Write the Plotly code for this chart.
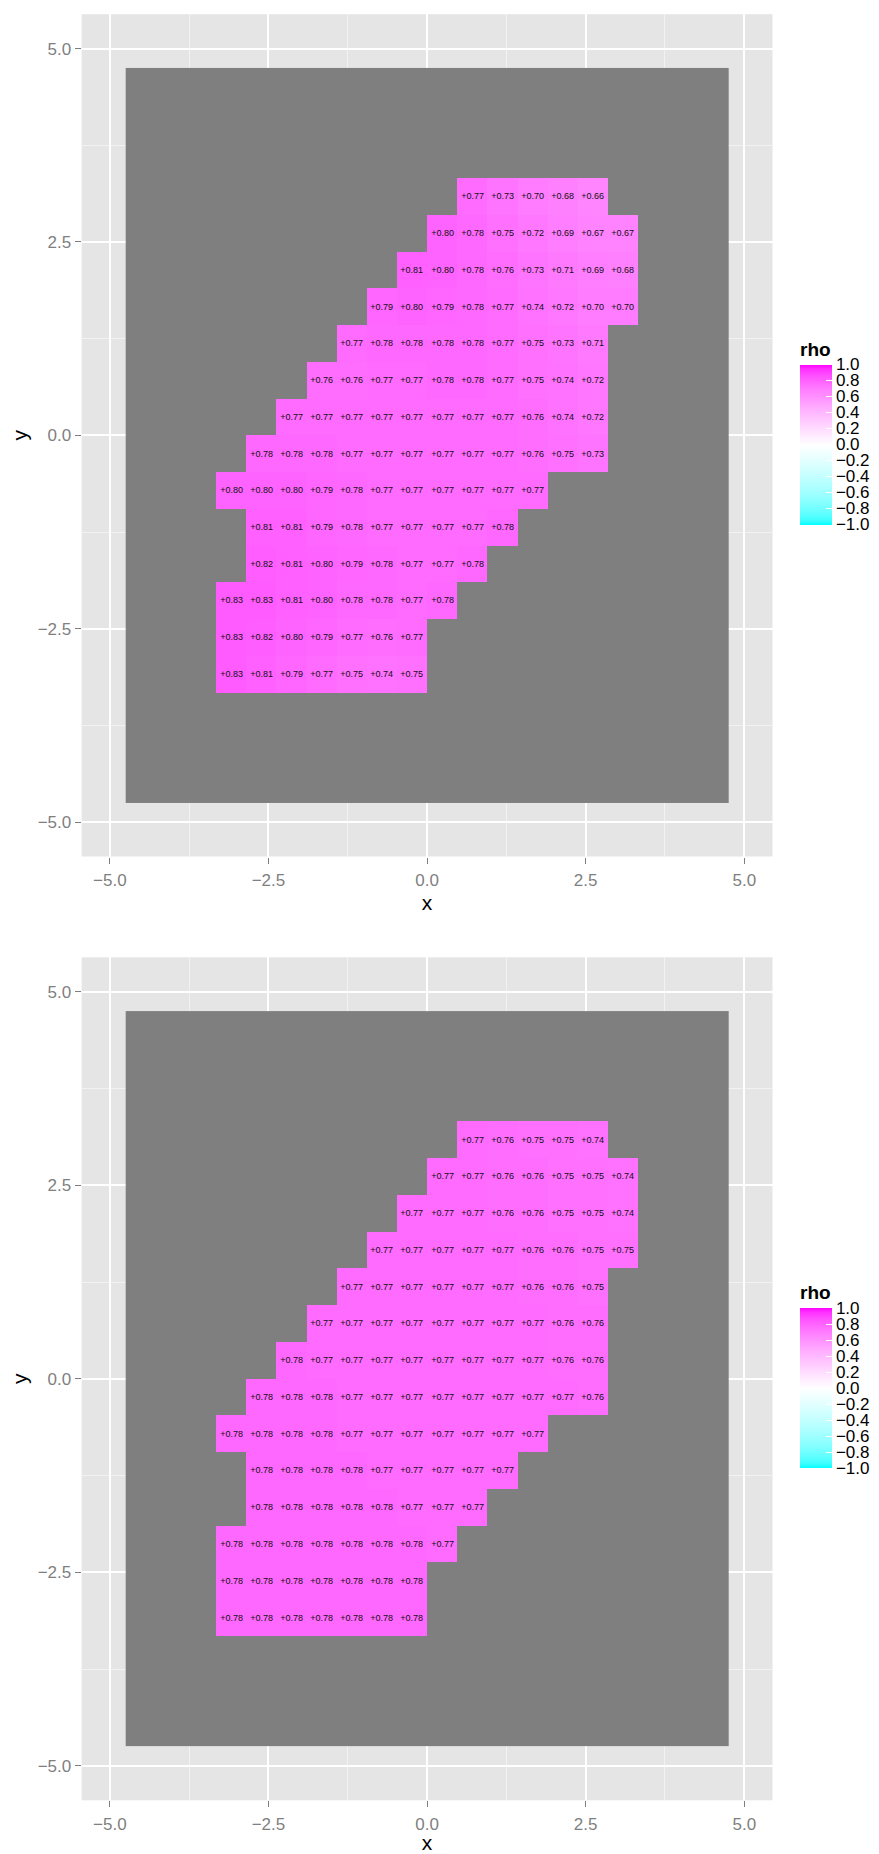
import numpy as np
import plotly.graph_objects as go

# ---------------- data ----------------
GRID_N = 20
GRID_LO, GRID_HI = -4.75, 4.75

# row index (from bottom, 0..19) and first column index of each data row
row_index = [16, 15, 14, 13, 12, 11, 10, 9, 8, 7, 6, 5, 4, 3]
row_start = [11, 10, 9, 8, 7, 6, 5, 4, 3, 4, 4, 3, 3, 3]

top_values = [
    [0.77, 0.73, 0.70, 0.68, 0.66],
    [0.80, 0.78, 0.75, 0.72, 0.69, 0.67, 0.67],
    [0.81, 0.80, 0.78, 0.76, 0.73, 0.71, 0.69, 0.68],
    [0.79, 0.80, 0.79, 0.78, 0.77, 0.74, 0.72, 0.70, 0.70],
    [0.77, 0.78, 0.78, 0.78, 0.78, 0.77, 0.75, 0.73, 0.71],
    [0.76, 0.76, 0.77, 0.77, 0.78, 0.78, 0.77, 0.75, 0.74, 0.72],
    [0.77, 0.77, 0.77, 0.77, 0.77, 0.77, 0.77, 0.77, 0.76, 0.74, 0.72],
    [0.78, 0.78, 0.78, 0.77, 0.77, 0.77, 0.77, 0.77, 0.77, 0.76, 0.75, 0.73],
    [0.80, 0.80, 0.80, 0.79, 0.78, 0.77, 0.77, 0.77, 0.77, 0.77, 0.77],
    [0.81, 0.81, 0.79, 0.78, 0.77, 0.77, 0.77, 0.77, 0.78],
    [0.82, 0.81, 0.80, 0.79, 0.78, 0.77, 0.77, 0.78],
    [0.83, 0.83, 0.81, 0.80, 0.78, 0.78, 0.77, 0.78],
    [0.83, 0.82, 0.80, 0.79, 0.77, 0.76, 0.77],
    [0.83, 0.81, 0.79, 0.77, 0.75, 0.74, 0.75],
]

bottom_values = [
    [0.77, 0.76, 0.75, 0.75, 0.74],
    [0.77, 0.77, 0.76, 0.76, 0.75, 0.75, 0.74],
    [0.77, 0.77, 0.77, 0.76, 0.76, 0.75, 0.75, 0.74],
    [0.77, 0.77, 0.77, 0.77, 0.77, 0.76, 0.76, 0.75, 0.75],
    [0.77, 0.77, 0.77, 0.77, 0.77, 0.77, 0.76, 0.76, 0.75],
    [0.77, 0.77, 0.77, 0.77, 0.77, 0.77, 0.77, 0.77, 0.76, 0.76],
    [0.78, 0.77, 0.77, 0.77, 0.77, 0.77, 0.77, 0.77, 0.77, 0.76, 0.76],
    [0.78, 0.78, 0.78, 0.77, 0.77, 0.77, 0.77, 0.77, 0.77, 0.77, 0.77, 0.76],
    [0.78, 0.78, 0.78, 0.78, 0.77, 0.77, 0.77, 0.77, 0.77, 0.77, 0.77],
    [0.78, 0.78, 0.78, 0.78, 0.77, 0.77, 0.77, 0.77, 0.77],
    [0.78, 0.78, 0.78, 0.78, 0.78, 0.77, 0.77, 0.77],
    [0.78, 0.78, 0.78, 0.78, 0.78, 0.78, 0.78, 0.77],
    [0.78, 0.78, 0.78, 0.78, 0.78, 0.78, 0.78],
    [0.78, 0.78, 0.78, 0.78, 0.78, 0.78, 0.78],
]

axis_tick_vals = [-5.0, -2.5, 0.0, 2.5, 5.0]
axis_tick_text = ["\u22125.0", "\u22122.5", "0.0", "2.5", "5.0"]
minor_tick_vals = [-3.75, -1.25, 1.25, 3.75]
legend_tick_vals = [1.0, 0.8, 0.6, 0.4, 0.2, 0.0, -0.2, -0.4, -0.6, -0.8, -1.0]
legend_tick_text = ["1.0", "0.8", "0.6", "0.4", "0.2", "0.0",
                    "\u22120.2", "\u22120.4", "\u22120.6", "\u22120.8", "\u22121.0"]

# ---------------- helpers ----------------
cell = (GRID_HI - GRID_LO) / GRID_N
centers = [GRID_LO + cell * (k + 0.5) for k in range(GRID_N)]


def build_grid(values):
    z = np.full((GRID_N, GRID_N), np.nan)
    txt = [["" for _ in range(GRID_N)] for _ in range(GRID_N)]
    for r, c0, vals in zip(row_index, row_start, values):
        for j, v in enumerate(vals):
            z[r, c0 + j] = v
            txt[r][c0 + j] = f"{v:+.2f}"
    return z, txt


# Lab interpolation (like ggplot's scale_fill_gradient2)
def _lin(c):
    c = c / 255.0
    return np.where(c <= 0.04045, c / 12.92, ((c + 0.055) / 1.055) ** 2.4)


M = np.array([[0.4124564, 0.3575761, 0.1804375],
              [0.2126729, 0.7151522, 0.0721750],
              [0.0193339, 0.1191920, 0.9503041]])
WN = np.array([0.95047, 1.0, 1.08883])


def rgb2lab(rgb):
    xyz = M @ _lin(np.array(rgb, float)) / WN
    d = 6 / 29
    f = np.where(xyz > d ** 3, np.cbrt(xyz), xyz / (3 * d * d) + 4 / 29)
    return np.array([116 * f[1] - 16, 500 * (f[0] - f[1]), 200 * (f[1] - f[2])])


def lab2rgb(lab):
    L, a, b = lab
    fy = (L + 16) / 116
    fx = fy + a / 500
    fz = fy - b / 200
    d = 6 / 29
    f = np.array([fx, fy, fz])
    xyz = np.where(f > d, f ** 3, 3 * d * d * (f - 4 / 29)) * WN
    lin = np.linalg.solve(M, xyz)
    lin = np.clip(lin, 0, 1)
    c = np.where(lin <= 0.0031308, 12.92 * lin, 1.055 * lin ** (1 / 2.4) - 0.055)
    c = np.clip(np.round(c * 255), 0, 255).astype(int)
    return f"rgb({c[0]},{c[1]},{c[2]})"


low, mid, high = rgb2lab((0, 255, 255)), rgb2lab((255, 255, 255)), rgb2lab((255, 0, 255))
colorscale = []
for s in np.linspace(0, 1, 41):
    v = 2 * s - 1
    if v < 0:
        lab = mid + (low - mid) * (-v)
    else:
        lab = mid + (high - mid) * v
    colorscale.append([float(s), lab2rgb(lab)])

FONT = "Liberation Sans, Arial, sans-serif"
OFF = 8                      # default page body margin
W, H = 879 - OFF, 1854 - OFF


def px_x(x):
    return (x - OFF) / W


def px_y(y):
    return 1 - (y - OFF) / H


fig = go.Figure()

panels = [
    dict(values=top_values, xa="x", ya="y", ca="coloraxis"),
    dict(values=bottom_values, xa="x2", ya="y2", ca="coloraxis2"),
]

for p in panels:
    z, txt = build_grid(p["values"])
    # NA background (grey50)
    fig.add_trace(go.Heatmap(
        x=centers, y=centers, z=np.zeros((GRID_N, GRID_N)),
        zmin=0, zmax=1, colorscale=[[0, "#7f7f7f"], [1, "#7f7f7f"]],
        showscale=False, hoverinfo="skip", xaxis=p["xa"], yaxis=p["ya"]))
    fig.add_trace(go.Heatmap(
        x=centers, y=centers, z=z, text=txt, texttemplate="%{text}",
        textfont=dict(family=FONT, size=9, color="#111111"),
        coloraxis=p["ca"], hoverinfo="skip", xaxis=p["xa"], yaxis=p["ya"]))


def axis(domain, anchor, title, is_x):
    d = dict(
        domain=domain, anchor=anchor, range=[-5.445, 5.445],
        tickmode="array", tickvals=axis_tick_vals, ticktext=axis_tick_text,
        showgrid=True, gridcolor="white", gridwidth=1.8,
        zeroline=False, showline=False,
        ticks="outside", ticklen=6, tickwidth=1.3, tickcolor="#7f7f7f",
        tickfont=dict(family=FONT, size=17, color="#7f7f7f"),
        minor=dict(tickvals=minor_tick_vals, showgrid=True,
                   gridcolor="#f2f2f2", gridwidth=0.9, ticks=""),
        title=dict(text=title, font=dict(family=FONT, size=21, color="black"), standoff=6),
        fixedrange=True, automargin=False,
    )
    if is_x:
        d["ticklabelstandoff"] = 2
    return d


xdom = [px_x(81.6), px_x(772.5)]
top_y = [px_y(856.5), px_y(14.2)]
bot_y = [px_y(1800.3), px_y(957.3)]


def cbar(ycenter):
    return dict(
        x=px_x(800), xanchor="left", xpad=0, y=px_y(ycenter), yanchor="middle", ypad=0,
        len=186, lenmode="pixels", thickness=32, thicknessmode="pixels",
        outlinewidth=0, tickmode="array", tickvals=legend_tick_vals, ticktext=legend_tick_text,
        ticks="inside", ticklen=6, tickcolor="white", tickwidth=1,
        tickfont=dict(family=FONT, size=17, color="black"),
        title=dict(text="<b>rho</b>", side="top", font=dict(family=FONT, size=19, color="black")),
    )


fig.update_layout(
    width=W, height=H, margin=dict(l=0, r=0, t=0, b=0),
    paper_bgcolor="white", plot_bgcolor="#e5e5e5",
    font=dict(family=FONT),
    xaxis=axis(xdom, "y", "x", True), yaxis=axis(top_y, "x", "y", False),
    xaxis2=axis(xdom, "y2", "x", True), yaxis2=axis(bot_y, "x2", "y", False),
    coloraxis=dict(cmin=-1, cmax=1, colorscale=colorscale, colorbar=cbar(431.5)),
    coloraxis2=dict(cmin=-1, cmax=1, colorscale=colorscale, colorbar=cbar(1375)),
    showlegend=False,
)

fig.write_html("out.html")
